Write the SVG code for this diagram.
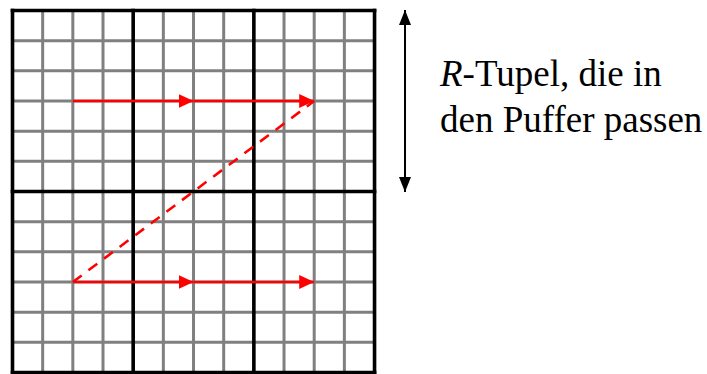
<svg xmlns="http://www.w3.org/2000/svg" width="707" height="374" viewBox="0 0 707 374">
<style>
.g{stroke:#808080;stroke-width:3;fill:none}
.k{stroke:#000;stroke-width:3.6;fill:none;stroke-linecap:square}
.r{stroke:#ff0000;stroke-width:2.6;fill:none}
.rd{stroke:#ff0000;stroke-width:2.6;fill:none;stroke-dasharray:11 8.5}
.b{stroke:#000;stroke-width:2;fill:none}
.t{font-size:37px;fill:#000}
</style>
<defs>
<marker id="ra" markerUnits="userSpaceOnUse" markerWidth="16" markerHeight="15" refX="15" refY="7" orient="auto"><path d="M0,0L15,7L0,14z" fill="#ff0000"/></marker>
<marker id="ba" markerUnits="userSpaceOnUse" markerWidth="16" markerHeight="13" refX="15" refY="6" orient="auto-start-reverse"><path d="M0,0L15,6L0,12z" fill="#000"/></marker>
</defs>
<g id="grid">
<g class="g">
<path d="M42.67,10.5V372.54M72.84,10.5V372.54M103.01,10.5V372.54M163.35,10.5V372.54M193.52,10.5V372.54M223.69,10.5V372.54M284.03,10.5V372.54M314.2,10.5V372.54M344.37,10.5V372.54"/>
<path d="M12.5,40.67H374.54M12.5,70.84H374.54M12.5,101.01H374.54M12.5,131.18H374.54M12.5,161.35H374.54M12.5,221.69H374.54M12.5,251.86H374.54M12.5,282.03H374.54M12.5,312.2H374.54M12.5,342.37H374.54"/>
</g>
<g class="k">
<path d="M12.5,10.5V372.54M133.18,10.5V372.54M253.86,10.5V372.54M374.54,10.5V372.54"/>
<path d="M12.5,10.5H374.54M12.5,191.52H374.54M12.5,372.54H374.54"/>
</g>
</g>
<g id="connectors">
<line class="r" x1="72.84" y1="101.01" x2="193.52" y2="101.01" marker-end="url(#ra)"/>
<line class="r" x1="193.52" y1="101.01" x2="314.2" y2="101.01" marker-end="url(#ra)"/>
<line class="rd" x1="72.84" y1="282.03" x2="314.2" y2="101.01"/>
<line class="r" x1="72.84" y1="282.03" x2="193.52" y2="282.03" marker-end="url(#ra)"/>
<line class="r" x1="193.52" y1="282.03" x2="314.2" y2="282.03" marker-end="url(#ra)"/>
<line class="b" x1="405" y1="10" x2="405" y2="192" marker-start="url(#ba)" marker-end="url(#ba)"/>
</g>
<g id="label" font-family="Liberation Serif, Times New Roman, DejaVu Serif, serif">
<text class="t" x="440" y="86"><tspan font-style="italic">R</tspan>-Tupel, die in</text>
<text class="t" x="440" y="132">den Puffer passen</text>
</g>
</svg>
